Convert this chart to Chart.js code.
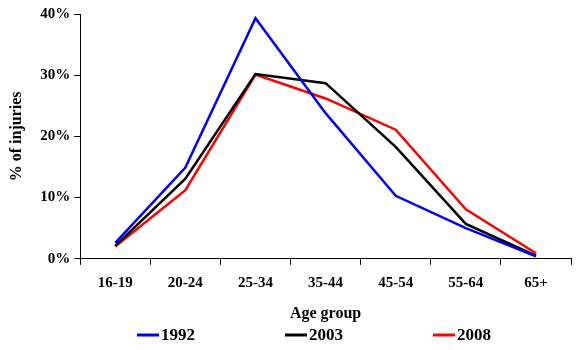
<!DOCTYPE html>
<html>
<head>
<meta charset="utf-8">
<script src="https://cdn.jsdelivr.net/npm/chart.js@4"></script>
<style>
html,body{margin:0;padding:0;background:#fff;}
#wrap{width:580px;height:350px;}
</style>
</head>
<body>
<div id="wrap"><canvas id="c" width="580" height="350"></canvas></div>
<script>
const categories = ["16-19","20-24","25-34","35-44","45-54","55-64","65+"];
const s1992 = [2.6, 14.9, 39.3, 23.8, 10.3, 5.0, 0.4];
const s2003 = [2.1, 13.1, 30.2, 28.7, 18.3, 5.7, 0.5];
const s2008 = [2.0, 11.2, 30.1, 26.2, 21.1, 8.1, 0.9];
const seriesNames = ["1992","2003","2008"];
const yTicks = [0,10,20,30,40];

const FONT = "'Liberation Serif','Times New Roman',serif";

const legendPlugin = {
  id: 'bottomLegend',
  afterDraw(chart) {
    const ctx = chart.ctx;
    ctx.save();
    ctx.font = "bold 17px " + FONT;
    ctx.textBaseline = 'middle';
    ctx.textAlign = 'left';
    const y = 335;
    chart.data.datasets.forEach((ds, i) => {
      const x0 = 137 + i * 148;
      ctx.strokeStyle = ds.borderColor;
      ctx.lineWidth = 3;
      ctx.beginPath();
      ctx.moveTo(x0, y);
      ctx.lineTo(x0 + 22, y);
      ctx.stroke();
      ctx.fillStyle = '#000';
      ctx.fillText(ds.label, x0 + 24, y + 1);
    });
    ctx.restore();
  }
};

new Chart(document.getElementById('c'), {
  type: 'line',
  data: {
    labels: categories,
    datasets: [
      {label: seriesNames[0], data: s1992, borderColor: '#0000ff'},
      {label: seriesNames[1], data: s2003, borderColor: '#000000'},
      {label: seriesNames[2], data: s2008, borderColor: '#ff0000'}
    ].map(d => Object.assign(d, {borderWidth: 2.5, pointRadius: 0, tension: 0, fill: false}))
  },
  options: {
    responsive: false,
    animation: false,
    layout: {padding: {left: 7, right: 9, top: 14, bottom: 27}},
    plugins: {legend: {display: false}, tooltip: {enabled: false}},
    scales: {
      x: {
        offset: true,
        grid: {offset: true, drawOnChartArea: false, color: '#000', tickLength: 6, tickWidth: 1},
        border: {color: '#000', width: 1},
        ticks: {color: '#000', font: {family: FONT, size: 15, weight: 'bold'}, padding: 9, maxRotation: 0},
        title: {display: true, text: 'Age group', color: '#000', font: {family: FONT, size: 16, weight: 'bold'}, padding: {top: 3, bottom: 0}}
      },
      y: {
        min: 0, max: 40,
        afterBuildTicks(scale) { scale.ticks = yTicks.map(v => ({value: v})); },
        grid: {drawOnChartArea: false, color: '#000', tickLength: 6},
        border: {color: '#000', width: 1},
        ticks: {color: '#000', font: {family: FONT, size: 15, weight: 'bold'}, padding: 4, callback: v => v + '%'},
        title: {display: true, text: '% of injuries', color: '#000', font: {family: FONT, size: 16, weight: 'bold'}, padding: {top: 0, bottom: 10}}
      }
    }
  },
  plugins: [legendPlugin]
});
</script>
</body>
</html>
